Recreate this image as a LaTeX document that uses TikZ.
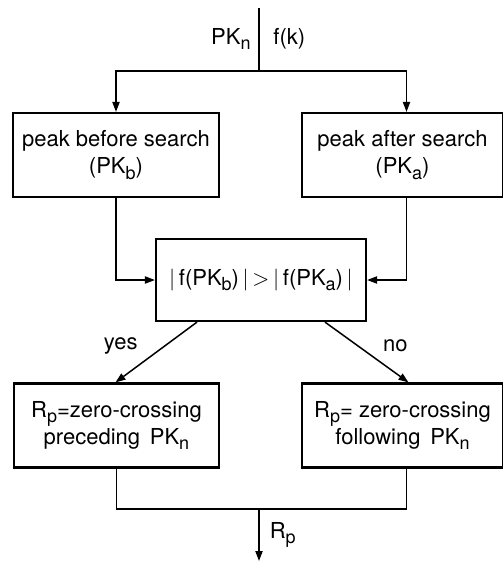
\documentclass[tikz,border=0pt]{standalone}
\usepackage{fontspec}
\setmainfont{TeX Gyre Heros}
\usepackage{tikz}
\usetikzlibrary{arrows.meta, positioning, calc}
\newcommand{\lowsub}[1]{\raisebox{-0.45ex}{\small #1}}

\begin{document}
\begin{tikzpicture}[
  x=0.5pt, y=-0.5pt,
  font=\fontsize{11}{13.5}\selectfont,
  >={Triangle[length=5pt, width=3.6pt]},
  pbox/.style = {rectangle, draw, line width=1.1pt, align=center,
                 inner sep=2pt, minimum height=42pt},
  arr/.style  = {->, line width=0.75pt},
  wire/.style = {line width=0.75pt},
  lab/.style  = {inner sep=1pt}]

\useasboundingbox (0,0) rectangle (503,569);

% ---- input and split -------------------------------------------------------
\coordinate (in) at (259,8);
\coordinate (split) at (259,71);
\node[lab, anchor=east] (pkn) at (253,39) {PK\lowsub{n}};
\node[lab, anchor=west] (fk) at (271,39) {f(k)};

% ---- peak boxes ------------------------------------------------------------
\node[pbox, minimum width=103pt] (lpeak) at (116,155)
  {peak before search\\ (PK\lowsub{b})};
\node[pbox, minimum width=100.5pt] (rpeak) at (402.5,155)
  {peak after search\\ (PK\lowsub{a})};

% ---- comparison --------------------------------------------------------------
\node[pbox, minimum width=105pt, minimum height=41pt] (cmp) at (261,280)
  {$|$\,f(PK\lowsub{b})\,$|$\,$>$\,$|$\,f(PK\lowsub{a})\,$|$};

% ---- result boxes ------------------------------------------------------------
\node[pbox, minimum width=102.5pt] (lzero) at (116.5,425.5)
  {R\lowsub{p}=zero-crossing\\ preceding\, PK\lowsub{n}};
\node[pbox, minimum width=100.5pt] (rzero) at (402.5,425.5)
  {R\lowsub{p}= zero-crossing\\ following\, PK\lowsub{n}};

\coordinate (join) at (259,509);
\coordinate (out) at (259,561);

% connectors
\draw[wire] (in) -- (split);
\draw[arr] (split) -| (lpeak.north);
\draw[arr] (split) -| ([xshift=2pt]rpeak.north);
\draw[arr] (lpeak.south) |- (cmp.west);
\draw[arr] ([xshift=2pt]rpeak.south) |- (cmp.east);
\draw[arr] ([xshift=-32pt]cmp.south) -- node[lab, pos=0.4, left=12pt] {yes}
  ([xshift=-0.5pt]lzero.north);
\draw[arr] ([xshift=32pt]cmp.south) -- node[lab, pos=0.4, right=11pt] {no}
  ([xshift=3pt]rzero.north);
\draw[wire] (lzero.south) |- (join) -| ([xshift=2pt]rzero.south);
\draw[arr] (join) -- (out) node[lab, midway, right=4pt] {R\lowsub{p}};

\end{tikzpicture}
\end{document}
